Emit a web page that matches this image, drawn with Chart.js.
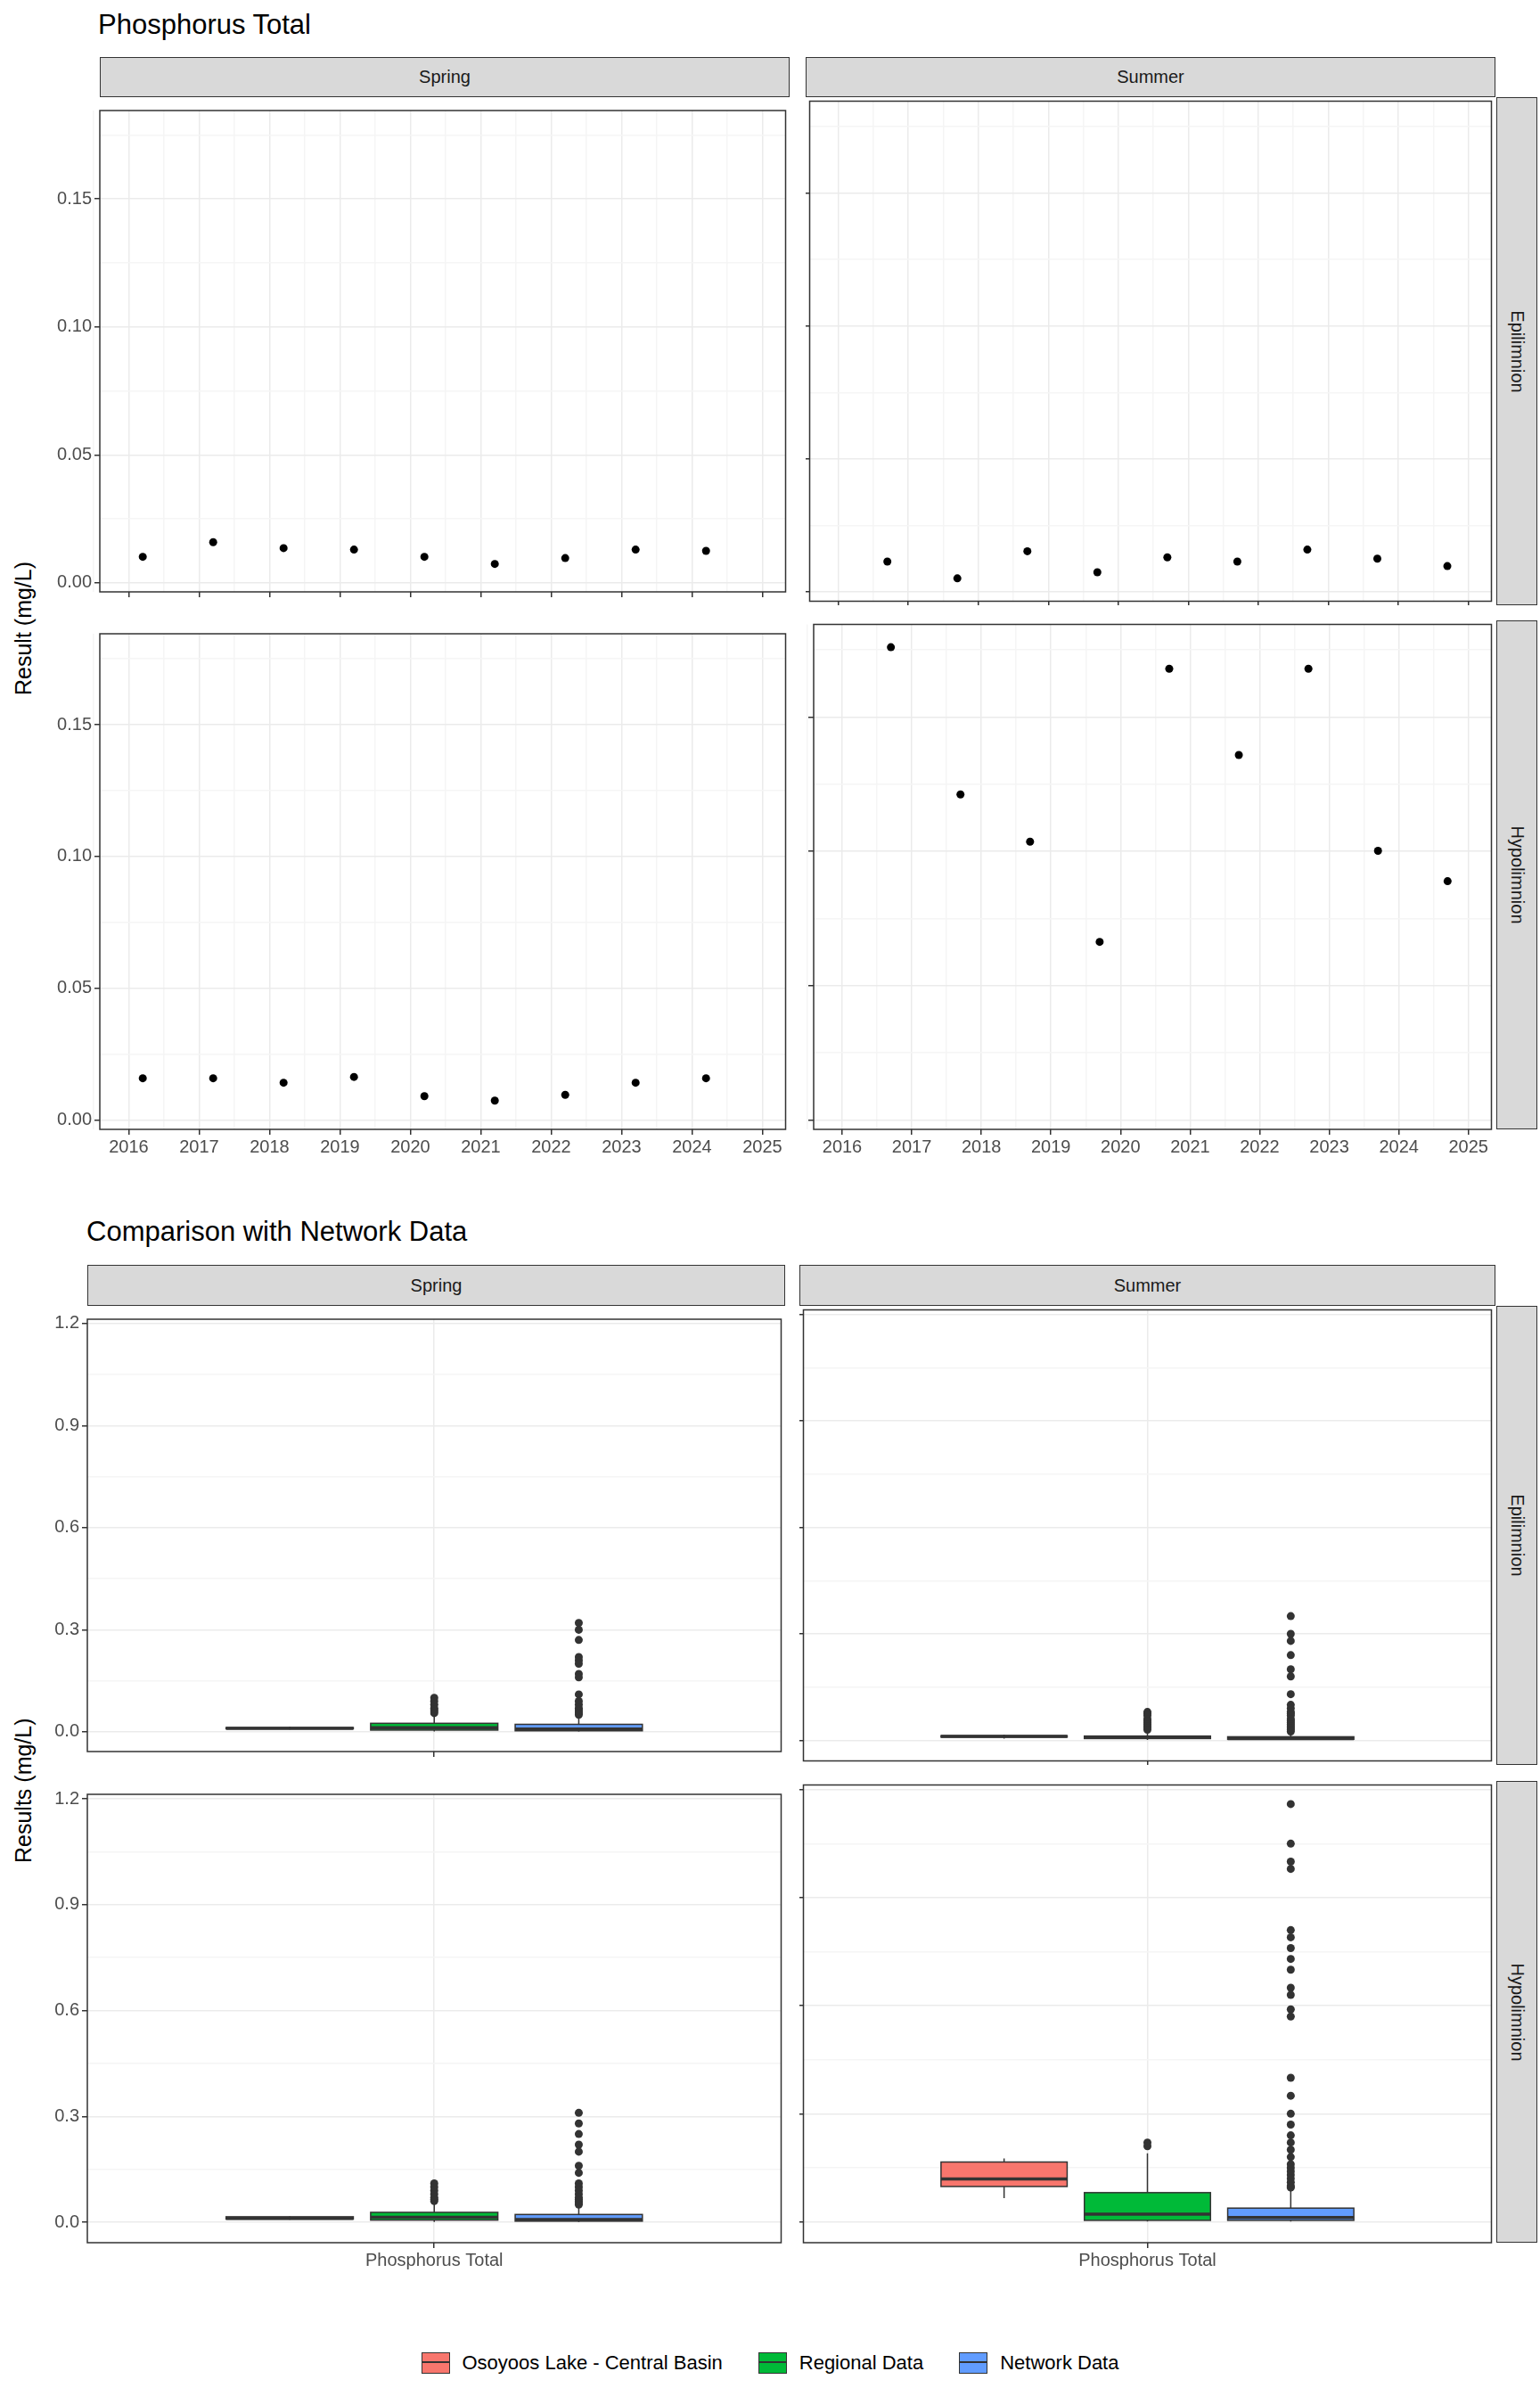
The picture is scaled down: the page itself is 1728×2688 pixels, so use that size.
<!DOCTYPE html>
<html>
<head>
<meta charset="utf-8">
<script src="https://cdn.jsdelivr.net/npm/chart.js@4"></script>
<style>
  body { margin: 0; background: #fff; font-family: "Liberation Sans", Arial, sans-serif; }
  #page { position: relative; width: 1728px; height: 2688px; }
  canvas, .strip, .txt { position: absolute; }
  .strip { background: #D9D9D9; border: 1.5px solid #333; box-sizing: border-box; color: #1A1A1A;
           font-size: 20px; display: flex; align-items: center; justify-content: center; }
  .vtext { transform: rotate(90deg); white-space: nowrap; }
  .title { font-size: 31px; color: #000; }
  .ylab { font-size: 25px; color: #000; transform-origin: left top; transform: rotate(-90deg); white-space: nowrap; }
  .legend { position: absolute; top: 2638px; left: 0; width: 1728px; display: flex; justify-content: center;
            gap: 40px; font-size: 22px; color: #000; }
  .legend span { display: flex; align-items: center; }
  .key { width: 32px; height: 24px; border: 1.5px solid #333; box-sizing: border-box; margin-right: 14px; position: relative; }
  .key::after { content: ""; position: absolute; left: 0; right: 0; top: 9px; border-top: 2.5px solid #333; }
</style>
</head>
<body>
<div id="page"></div>
<script>
// ---- data: Phosphorus Total (mg/L) ----
const springDates = [2016.2, 2017.2, 2018.2, 2019.2, 2020.2, 2021.2, 2022.2, 2023.2, 2024.2];
const summerDates = [2016.7, 2017.7, 2018.7, 2019.7, 2020.7, 2021.7, 2022.7, 2023.7, 2024.7];
const springEpi = [0.0102, 0.0159, 0.0136, 0.0130, 0.0102, 0.0074, 0.0097, 0.0130, 0.0125];
const summerEpi = [0.0114, 0.0051, 0.0153, 0.0074, 0.0130, 0.0114, 0.0159, 0.0125, 0.0097];
const springHypo = [0.0159, 0.0159, 0.0142, 0.0164, 0.0091, 0.0074, 0.0096, 0.0142, 0.0159];
const summerHypo = [0.176, 0.1212, 0.1036, 0.0663, 0.168, 0.1359, 0.168, 0.1002, 0.0889];
const yearTicks = [2016, 2017, 2018, 2019, 2020, 2021, 2022, 2023, 2024, 2025];
const topYTicks = [0, 0.05, 0.10, 0.15];

// comparison boxes: [min, q1, median, q3, max] per group
const groups = ['Osoyoos Lake - Central Basin', 'Regional Data', 'Network Data'];
const groupColors = ['#F8766D', '#00BA38', '#619CFF'];
const boxYTicks = [0, 0.3, 0.6, 0.9, 1.2];
const springEpiBoxes = [[0.007, 0.009, 0.010, 0.0125, 0.0155], [0.001, 0.005, 0.012, 0.025, 0.052], [0.001, 0.003, 0.008, 0.022, 0.045]];
const springEpiOut = [[], [0.1, 0.09, 0.08, 0.07, 0.065, 0.06, 0.055],
  [0.32, 0.30, 0.27, 0.22, 0.21, 0.20, 0.17, 0.16, 0.11, 0.09, 0.08, 0.07, 0.065, 0.06, 0.055, 0.05]];
const summerEpiBoxes = [[0.005, 0.009, 0.011, 0.013, 0.016], [0.001, 0.005, 0.008, 0.012, 0.02], [0.001, 0.003, 0.005, 0.010, 0.02]];
const summerEpiOut = [[], [0.08, 0.075, 0.07, 0.06, 0.055, 0.05, 0.045, 0.04, 0.035, 0.03],
  [0.35, 0.30, 0.28, 0.24, 0.20, 0.18, 0.13, 0.10, 0.09, 0.08, 0.075, 0.07, 0.06, 0.055, 0.05, 0.045, 0.04, 0.035, 0.03, 0.025]];
const springHypoBoxes = [[0.007, 0.009, 0.011, 0.0155, 0.0164], [0.001, 0.006, 0.014, 0.028, 0.055], [0.001, 0.003, 0.008, 0.022, 0.045]];
const springHypoOut = [[], [0.11, 0.10, 0.09, 0.08, 0.07, 0.065, 0.06],
  [0.31, 0.28, 0.25, 0.22, 0.20, 0.16, 0.14, 0.11, 0.10, 0.09, 0.08, 0.07, 0.065, 0.06, 0.055, 0.05]];
const summerHypoBoxes = [[0.066, 0.098, 0.119, 0.166, 0.176], [0.001, 0.004, 0.021, 0.081, 0.19], [0.001, 0.004, 0.012, 0.038, 0.09]];
const summerHypoOut = [[], [0.22, 0.21],
  [1.16, 1.05, 1.0, 0.98, 0.81, 0.79, 0.76, 0.73, 0.70, 0.65, 0.63, 0.59, 0.57, 0.40, 0.35, 0.30, 0.27, 0.24, 0.22,
   0.20, 0.18, 0.16, 0.15, 0.14, 0.13, 0.12, 0.11, 0.10, 0.095]];

const page = document.getElementById('page');
const AXW = 52, AXH = 42;
const tickFont = { family: 'Liberation Sans', size: 20 };

function el(cls, html, css) {
  const d = document.createElement('div');
  d.className = cls;
  d.innerHTML = html;
  Object.assign(d.style, css);
  page.appendChild(d);
  return d;
}

// black panel frame + optional box drawing
const framePlugin = {
  id: 'frame',
  afterDraw(chart) {
    const a = chart.chartArea, ctx = chart.ctx;
    ctx.save();
    ctx.strokeStyle = '#333';
    ctx.lineWidth = 1.5;
    ctx.strokeRect(a.left, a.top, a.right - a.left, a.bottom - a.top);
    ctx.restore();
  }
};
const boxPlugin = {
  id: 'boxes',
  beforeDatasetsDraw(chart, args, opts) {
    if (!opts.stats) return;
    const xs = chart.scales.x, ys = chart.scales.y, ctx = chart.ctx;
    ctx.save();
    opts.stats.forEach((s, i) => {
      const c = opts.centers[i];
      const x0 = xs.getPixelForValue(c - 0.11), x1 = xs.getPixelForValue(c + 0.11), xc = xs.getPixelForValue(c);
      const [mn, q1, md, q3, mx] = s.map(v => ys.getPixelForValue(v));
      ctx.strokeStyle = '#333';
      ctx.lineWidth = 1.5;
      ctx.beginPath();
      ctx.moveTo(xc, mn); ctx.lineTo(xc, q1);
      ctx.moveTo(xc, q3); ctx.lineTo(xc, mx);
      ctx.stroke();
      ctx.fillStyle = groupColors[i];
      ctx.fillRect(x0, q3, x1 - x0, q1 - q3);
      ctx.strokeRect(x0, q3, x1 - x0, q1 - q3);
      ctx.lineWidth = 3.5;
      ctx.beginPath();
      ctx.moveTo(x0, md); ctx.lineTo(x1, md);
      ctx.stroke();
    });
    ctx.restore();
  }
};

function isMajor(v, list) { return list.some(t => Math.abs(t - v) < 1e-9); }

function panel(o) {
  const cv = document.createElement('canvas');
  const W = o.w + (o.showY ? AXW : 0), H = o.h + (o.showX ? AXH : 0);
  cv.width = W; cv.height = H;
  Object.assign(cv.style, { left: (o.left - (o.showY ? AXW : 0)) + 'px', top: o.top + 'px', width: W + 'px', height: H + 'px' });
  page.appendChild(cv);
  const gridColor = ctx => isMajor(ctx.tick.value, ctx.scale.axis === 'x' ? o.xMajor : o.yMajor) ? '#EBEBEB' : '#F5F5F5';
  const tickColor = ctx => isMajor(ctx.tick.value, ctx.scale.axis === 'x' ? o.xMajor : o.yMajor) ? '#333' : 'rgba(0,0,0,0)';
  new Chart(cv, {
    type: 'scatter',
    data: { datasets: o.datasets },
    options: {
      responsive: false, animation: false, devicePixelRatio: 1,
      layout: { padding: 0 },
      plugins: { legend: { display: false }, tooltip: { enabled: false }, boxes: o.boxes || {} },
      scales: {
        x: {
          type: 'linear', min: o.xMin, max: o.xMax,
          afterBuildTicks: s => { s.ticks = o.xTicks.map(v => ({ value: v })); },
          afterFit: s => { s.height = o.showX ? AXH : 0; },
          border: { display: false },
          grid: { color: gridColor, lineWidth: 1.5, tickColor: tickColor, tickLength: 6 },
          ticks: {
            display: o.showX, color: '#4D4D4D', font: tickFont, padding: 2, maxRotation: 0, autoSkip: false,
            callback: v => isMajor(v, o.xMajor) ? (o.xLabel ? o.xLabel(v) : String(v)) : ''
          }
        },
        y: {
          min: o.yMin, max: o.yMax,
          afterBuildTicks: s => { s.ticks = o.yTicks.map(v => ({ value: v })); },
          afterFit: s => { s.width = o.showY ? AXW : 0; },
          border: { display: false },
          grid: { color: gridColor, lineWidth: 1.5, tickColor: tickColor, tickLength: 6 },
          ticks: {
            display: o.showY, color: '#4D4D4D', font: tickFont, padding: 3, autoSkip: false,
            callback: v => isMajor(v, o.yMajor) ? v.toFixed(o.yDec) : ''
          }
        }
      }
    },
    plugins: [framePlugin, boxPlugin]
  });
}

// ---------- top: Phosphorus Total ----------
el('txt title', 'Phosphorus Total', { left: '110px', top: '10px' });
el('txt ylab', 'Result (mg/L)', { left: '12px', top: '780px' });
const topCols = [{ left: 112, w: 774, label: 'Spring' }, { left: 904, w: 774, label: 'Summer' }];
const topRows = [{ top: 109, h: 570, label: 'Epilimnion' }, { top: 696, h: 571, label: 'Hypolimnion' }];
const topData = [[springEpi, summerEpi], [springHypo, summerHypo]];
const topDates = [springDates, summerDates];
topCols.forEach(c => el('strip', c.label, { left: c.left + 'px', top: '64px', width: c.w + 'px', height: '45px' }));
topRows.forEach(r => el('strip', '<div class="vtext">' + r.label + '</div>', { left: '1679px', top: r.top + 'px', width: '46px', height: r.h + 'px' }));
const yrHalf = [], yHalf = [];
for (let i = 0; i < yearTicks.length * 2; i++) yrHalf.push(2015.5 + i * 0.5);
[0, 0.025, 0.05, 0.075, 0.1, 0.125, 0.15, 0.175].forEach(v => yHalf.push(v));
topRows.forEach((r, ri) => topCols.forEach((c, ci) => panel({
  left: c.left, top: r.top, w: c.w, h: r.h, showY: ci === 0, showX: ri === 1,
  xMin: 2015.59, xMax: 2025.33, xTicks: yrHalf, xMajor: yearTicks,
  yMin: -0.0035, yMax: 0.1845, yTicks: yHalf, yMajor: topYTicks, yDec: 2,
  datasets: [{
    data: topDates[ci].map((x, i) => ({ x: x, y: topData[ri][ci][i] })),
    backgroundColor: '#000', borderColor: '#000', pointRadius: 4.5, borderWidth: 0
  }]
})));

// ---------- bottom: Comparison with Network Data ----------
el('txt title', 'Comparison with Network Data', { left: '97px', top: '1364px' });
el('txt ylab', 'Results (mg/L)', { left: '12px', top: '2090px' });
const botCols = [{ left: 98, w: 783, label: 'Spring' }, { left: 897, w: 781, label: 'Summer' }];
const botRows = [{ top: 1465, h: 515, label: 'Epilimnion' }, { top: 1998, h: 518, label: 'Hypolimnion' }];
const botBoxes = [[springEpiBoxes, summerEpiBoxes], [springHypoBoxes, summerHypoBoxes]];
const botOut = [[springEpiOut, summerEpiOut], [springHypoOut, summerHypoOut]];
const centers = [0.75, 1, 1.25];
botCols.forEach(c => el('strip', c.label, { left: c.left + 'px', top: '1419px', width: c.w + 'px', height: '46px' }));
botRows.forEach(r => el('strip', '<div class="vtext">' + r.label + '</div>', { left: '1679px', top: r.top + 'px', width: '46px', height: r.h + 'px' }));
botRows.forEach((r, ri) => botCols.forEach((c, ci) => panel({
  left: c.left, top: r.top, w: c.w, h: r.h, showY: ci === 0, showX: ri === 1,
  xMin: 0.4, xMax: 1.6, xTicks: [1], xMajor: [1], xLabel: () => 'Phosphorus Total',
  yMin: -0.058, yMax: 1.213, yTicks: [0, 0.15, 0.3, 0.45, 0.6, 0.75, 0.9, 1.05, 1.2], yMajor: boxYTicks, yDec: 1,
  boxes: { stats: botBoxes[ri][ci], centers: centers },
  datasets: [{
    data: botOut[ri][ci].flatMap((arr, g) => arr.map(v => ({ x: centers[g], y: v }))),
    backgroundColor: '#333', borderColor: '#333', pointRadius: 4.5, borderWidth: 0
  }]
})));

// legend
const lg = document.createElement('div');
lg.className = 'legend';
lg.innerHTML = groups.map((g, i) => '<span><span class="key" style="background:' + groupColors[i] + '"></span>' + g + '</span>').join('');
page.appendChild(lg);
</script>
</body>
</html>
